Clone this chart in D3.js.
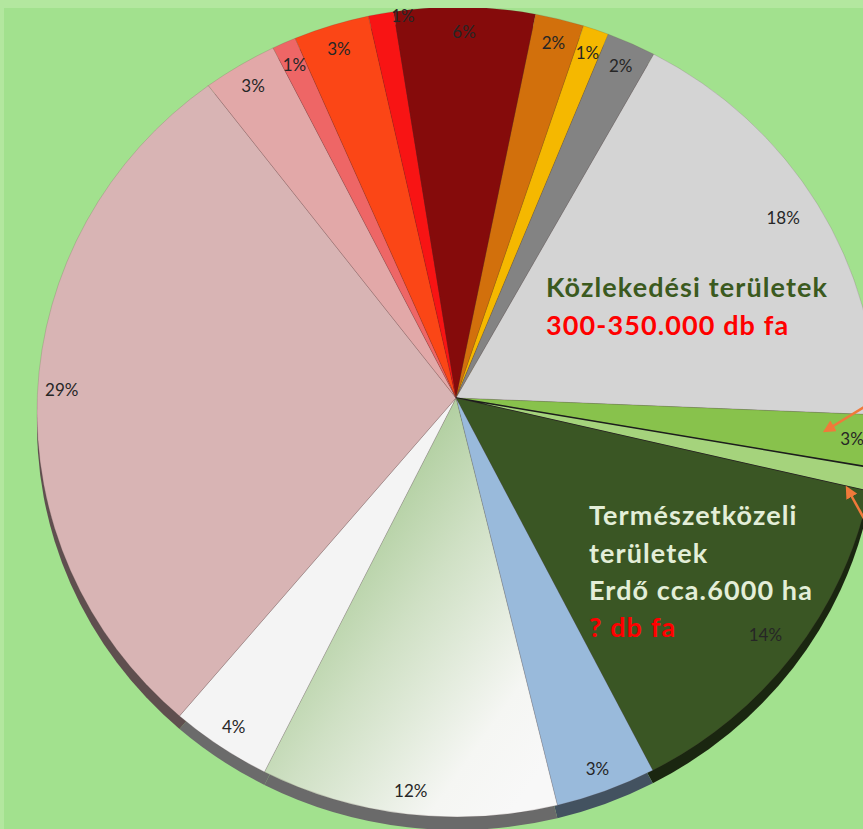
<!DOCTYPE html>
<html><head><meta charset="utf-8">
<script src="https://cdn.jsdelivr.net/npm/d3@7"></script>
<style>html,body{margin:0;padding:0;background:#a2e18e;} svg{display:block}</style>
</head><body>
<svg id="c" width="863" height="829"></svg>
<script>
// ---- data (clockwise from the top) ----
const categories = ["k1","k2","k3","k4","Közlekedési területek","k6","k7","Természetközeli területek","k9","k10","k11","k12","k13","k14","k15","k16"];
const values = [5.8, 2.0, 1.05, 2.0, 17.3, 2.0, 0.9, 13.7, 3.85, 11.4, 3.85, 27.9, 3.0, 0.97, 3.1, 1.03];
const valueLabels = ["6%","2%","1%","2%","18%","3%","","14%","3%","12%","4%","29%","3%","1%","3%","1%"];
const colors = ["#850b0b","#d2700c","#f5b800","#838383","#d4d4d4","#88c24c","#a5d37c","#3a5624","#99badb","#e8efe2","#f4f4f4","#d8b4b4","#e2a8a8","#ee6666","#fb4616","#f81414"];
const roadTitle = "Közlekedési területek";
const roadTrees = "300-350.000 db fa";
const natureLines = ["Természetközeli", "területek", "Erdő cca.6000 ha"];
const natureTrees = "? db fa";

// ---- layout: tilted pie = apex + elliptical rim ----
const W = 863, H = 829;
const ax = 456, ay = 398;            // point where the slices meet
const ex = 457, ey = 412, rx = 420, ry = 405; // rim ellipse
const depth = 13;
const start = -9.2 * Math.PI / 180;
const svg = d3.select("#c");
svg.append("rect").attr("width", W).attr("height", H).attr("fill", "#a2e18e");

const defs = svg.append("defs");
const g12 = defs.append("linearGradient").attr("id", "g12")
  .attr("gradientUnits", "userSpaceOnUse")
  .attr("x1", 300).attr("y1", 540).attr("x2", 570).attr("y2", 730);
g12.append("stop").attr("offset", 0).attr("stop-color", "#a3c78f");
g12.append("stop").attr("offset", 0.4).attr("stop-color", "#cfe0c4");
g12.append("stop").attr("offset", 0.8).attr("stop-color", "#f5f6f3");
g12.append("stop").attr("offset", 1).attr("stop-color", "#f8f8f8");

defs.append("marker").attr("id", "arr").attr("viewBox", "0 0 10 10")
  .attr("refX", 8).attr("refY", 5).attr("markerWidth", 5).attr("markerHeight", 5)
  .attr("orient", "auto").append("path").attr("d", "M0,0L10,5L0,10z").attr("fill", "#f0793a");

const pie = d3.pie().sort(null).value(d => d).startAngle(start).endAngle(start + 2 * Math.PI);
const arcs = pie(values);

// distance from apex to rim along angle a (clockwise from 12 o'clock)
function rimDist(a) {
  const s = Math.sin(a), c = -Math.cos(a);
  const u = ax - ex, v = ay - ey;
  const A = s * s / (rx * rx) + c * c / (ry * ry);
  const B = 2 * (u * s / (rx * rx) + v * c / (ry * ry));
  const C = u * u / (rx * rx) + v * v / (ry * ry) - 1;
  return (-B + Math.sqrt(B * B - 4 * A * C)) / (2 * A);
}
function pt(a, r) { return [ax + r * Math.sin(a), ay - r * Math.cos(a)]; }
function slicePath(d, dy) {
  const p0 = pt(d.startAngle, rimDist(d.startAngle)), p1 = pt(d.endAngle, rimDist(d.endAngle));
  const large = (d.endAngle - d.startAngle) > Math.PI ? 1 : 0;
  return `M${ax},${ay + dy}L${p0[0]},${p0[1] + dy}A${rx},${ry} 0 ${large} 1 ${p1[0]},${p1[1] + dy}Z`;
}

// 3D side
svg.append("g").selectAll("path").data(arcs).join("path")
  .attr("d", d => slicePath(d, depth))
  .attr("fill", (d, i) => d3.color(i === 9 ? "#f0f0f0" : colors[i]).darker(2.3));

// top face
const face = svg.append("g");
face.selectAll("path").data(arcs).join("path")
  .attr("d", d => slicePath(d, 0))
  .attr("fill", (d, i) => i === 9 ? "url(#g12)" : colors[i])
  .attr("stroke", (d, i) => i === 6 ? "#1c1c1c" : "rgba(80,60,60,0.22)")
  .attr("stroke-width", (d, i) => i === 6 ? 1.5 : 0.8);

// percentage labels (inside end)
face.selectAll("text").data(arcs).join("text")
  .attr("transform", (d, i) => {
    const a = (d.startAngle + d.endAngle) / 2;
    const s = Math.max(0, Math.sin(a));
    const inset = 24 + (d.value > 5 ? 16 * s * s : 0);
    let p = pt(a, rimDist(a) - inset);
    if (i === values.length - 1) p = [403, 15]; // thin red slice: label sits just above it
    return `translate(${p[0]},${p[1]})`;
  })
  .attr("text-anchor", "middle").attr("dominant-baseline", "central")
  .attr("font-family", "Lato, 'Open Sans', sans-serif").attr("font-size", 17)
  .attr("fill", "#262626")
  .text((d, i) => valueLabels[i]);

// annotations
const ann = svg.append("g").attr("font-family", "Lato, 'Open Sans', sans-serif")
  .attr("font-weight", "bold").attr("font-size", 27).attr("letter-spacing", 1.1);
ann.append("text").attr("x", 546).attr("y", 297).attr("fill", "#3b5a1f").text(roadTitle);
ann.append("text").attr("x", 546).attr("y", 335).attr("fill", "#ff0000").text(roadTrees);
natureLines.forEach((t, k) => {
  ann.append("text").attr("x", 589).attr("y", 525 + k * 37.5).attr("fill", "#e3eed8").text(t);
});
ann.append("text").attr("x", 589).attr("y", 637).attr("fill", "#ff0000").text(natureTrees);

// arrows
svg.append("line").attr("x1", 866).attr("y1", 406).attr("x2", 825).attr("y2", 431)
  .attr("stroke", "#f0793a").attr("stroke-width", 2.5).attr("marker-end", "url(#arr)");
svg.append("line").attr("x1", 866).attr("y1", 522).attr("x2", 847).attr("y2", 488)
  .attr("stroke", "#f0793a").attr("stroke-width", 2.5).attr("marker-end", "url(#arr)");

// frame strips
svg.append("rect").attr("x", 0).attr("y", 0).attr("width", W).attr("height", 8).attr("fill", "#b3e79f");
svg.append("rect").attr("x", 0).attr("y", 0).attr("width", 4).attr("height", H).attr("fill", "#b3e79f");
</script>
</body></html>
